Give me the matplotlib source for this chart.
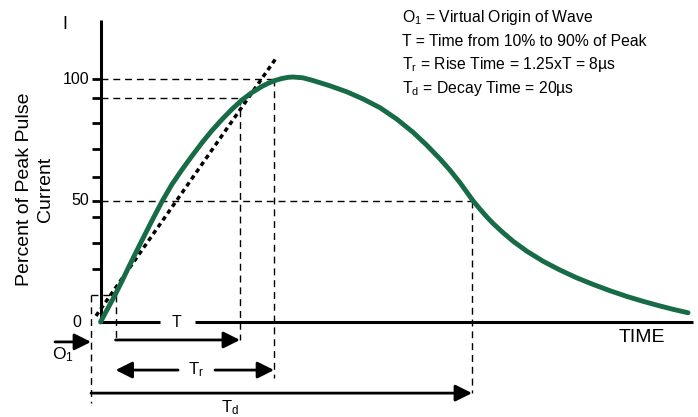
import matplotlib
matplotlib.use("Agg")
import matplotlib.pyplot as plt

plt.rcParams['font.family'] = ['Liberation Sans', 'DejaVu Sans']
plt.rcParams['mathtext.fontset'] = 'custom'
plt.rcParams['mathtext.rm'] = 'Liberation Sans'
plt.rcParams['mathtext.default'] = 'regular'

# pulse waveform (time in us, percent of peak)
time_us = [0.5, 0.73, 1.26, 1.61, 1.94, 2.31, 2.68, 3.19, 3.73, 4.24, 4.78,
           5.29, 5.83, 6.34, 6.88, 7.39, 7.93, 8.44, 8.98, 9.31, 9.66, 10.01,
           10.34, 10.6, 11.13, 11.65, 12.55, 13.44, 14.28, 15.17, 16.05, 16.9,
           17.62, 18.32, 18.85, 19.37, 20.05, 20.42, 20.79, 21.12, 21.63,
           22.17, 22.89, 23.74, 24.62, 25.5, 26.35, 27.24, 28.14, 28.99,
           29.87, 30.57, 31.34]
percent = [0, 3.4, 11.1, 16.6, 22.0, 27.9, 33.7, 41.6, 49.7, 56.6, 62.8,
           68.3, 73.9, 78.8, 83.5, 87.6, 91.5, 94.5, 97.1, 98.4, 99.5, 100.3,
           100.8, 100.95, 100.6, 99.5, 97.3, 94.8, 91.9, 88.3, 83.6, 78.2,
           72.9, 67.2, 62.5, 57.4, 50.0, 46.5, 43.2, 40.5, 36.8,
           33.2, 29.1, 25.0, 21.4, 18.2, 15.5, 12.9, 10.5, 8.5,
           6.6, 5.2, 3.8]

# dotted tangent through the 10% and 90% points
tangent_t = [0.26, 9.76]
tangent_p = [2.5, 109.2]

# time markers
t_o1 = 0.0
t_10 = 1.29
t_90 = 7.82
t_rise = 9.61
t_decay = 20.0
p_10 = 11.1
p_90 = 92.4

y_ticks = [100, 92.4, 81.9, 71.2, 59.6, 50, 43.1, 32.4, 21.7]
y_labels = {100: '100', 50: '50'}

legend_lines = [r'O$_1$ = Virtual Origin of Wave',
                'T = Time from 10% to 90% of Peak',
                r'T$_r$ = Rise Time = 1.25xT = 8µs',
                r'T$_d$ = Decay Time = 20µs']

fig = plt.figure(figsize=(6.98, 4.17), dpi=100)
ax = fig.add_axes([0, 0, 1, 1])
ax.set_xlim(-4.777, 31.864)
ax.set_ylim(-39.14, 132.67)
ax.axis('off')

green = '#176b46'
dash = (0, (5, 3.5))
t_axis = 0.52

# axes drawn by hand (x axis has a gap for the "T" label)
ax.plot([t_axis, t_axis], [0, 124.5], color='k', lw=2.2, solid_capstyle='butt')
ax.plot([0.47, 3.62], [0, 0], color='k', lw=2.2, solid_capstyle='butt')
ax.plot([5.46, 31.6], [0, 0], color='k', lw=2.2, solid_capstyle='butt')
for yt in y_ticks:
    ax.plot([t_axis - 0.45, t_axis], [yt, yt], color='k', lw=2.0, solid_capstyle='butt')
    if yt in y_labels:
        ax.text(-0.1, yt, y_labels[yt], ha='right', va='center', fontsize=11.5)
ax.text(-0.73, 0, '0', ha='center', va='center', fontsize=11.5)
ax.text(4.51, 0, 'T', ha='center', va='center', fontsize=11.5)
ax.text(-1.36, 122.4, 'I', ha='center', va='center', fontsize=13)
ax.text(28.9, -6.5, 'TIME', ha='center', va='center', fontsize=14)
ax.text(-2.94, 54.8, 'Percent of Peak Pulse\nCurrent', rotation=90,
        ha='center', va='center', fontsize=14, linespacing=1.25)

# dashed guides
ax.plot([t_axis, t_rise], [100, 100], color='k', lw=1.0, ls=dash)
ax.plot([t_axis, t_90], [p_90, p_90], color='k', lw=1.0, ls=dash)
ax.plot([t_axis, t_decay], [50, 50], color='k', lw=1.0, ls=dash)
ax.plot([t_o1, t_10], [p_10, p_10], color='k', lw=1.0, ls=dash)
ax.plot([t_o1, t_o1], [p_10, -33.4], color='k', lw=1.0, ls=dash)
ax.plot([t_10, t_10], [p_10, -7.4], color='k', lw=1.0, ls=dash)
ax.plot([t_90, t_90], [p_90, -7.4], color='k', lw=1.0, ls=dash)
ax.plot([t_rise, t_rise], [100, -23.1], color='k', lw=1.0, ls=dash)
ax.plot([t_decay, t_decay], [50, -29.3], color='k', lw=1.0, ls=dash)

# tangent and waveform
ax.plot(tangent_t, tangent_p, color='k', lw=2.5, ls=(0, (1.3, 1.1)))
ax.plot(time_us, percent, color=green, lw=3.5, solid_joinstyle='round',
        solid_capstyle='round', zorder=5)

# arrows
arr = dict(arrowstyle='-|>', color='k', lw=2.0, shrinkA=0, shrinkB=0, mutation_scale=25)
ax.annotate('', xy=(t_90, -7.4), xytext=(t_10, -7.4), arrowprops=arr)
ax.annotate('', xy=(t_10, -19.8), xytext=(4.57, -19.8), arrowprops=arr)
ax.annotate('', xy=(t_rise, -19.8), xytext=(6.51, -19.8), arrowprops=arr)
ax.annotate('', xy=(t_decay, -29.3), xytext=(t_o1, -29.3), arrowprops=arr)
ax.annotate('', xy=(t_o1, -8.2), xytext=(-1.89, -8.2), arrowprops=arr)
ax.text(5.51, -19.8, r'T$_r$', ha='center', va='center', fontsize=12)
ax.text(7.3, -35.4, r'T$_d$', ha='center', va='center', fontsize=12)
ax.text(-1.47, -13.6, r'O$_1$', ha='center', va='center', fontsize=12.5)

# notes in the top right
for i, line in enumerate(legend_lines):
    ax.text(16.33, 125.3 - i * 9.65, line, ha='left', va='center', fontsize=11.3)

fig.savefig('out.png', dpi=100)
